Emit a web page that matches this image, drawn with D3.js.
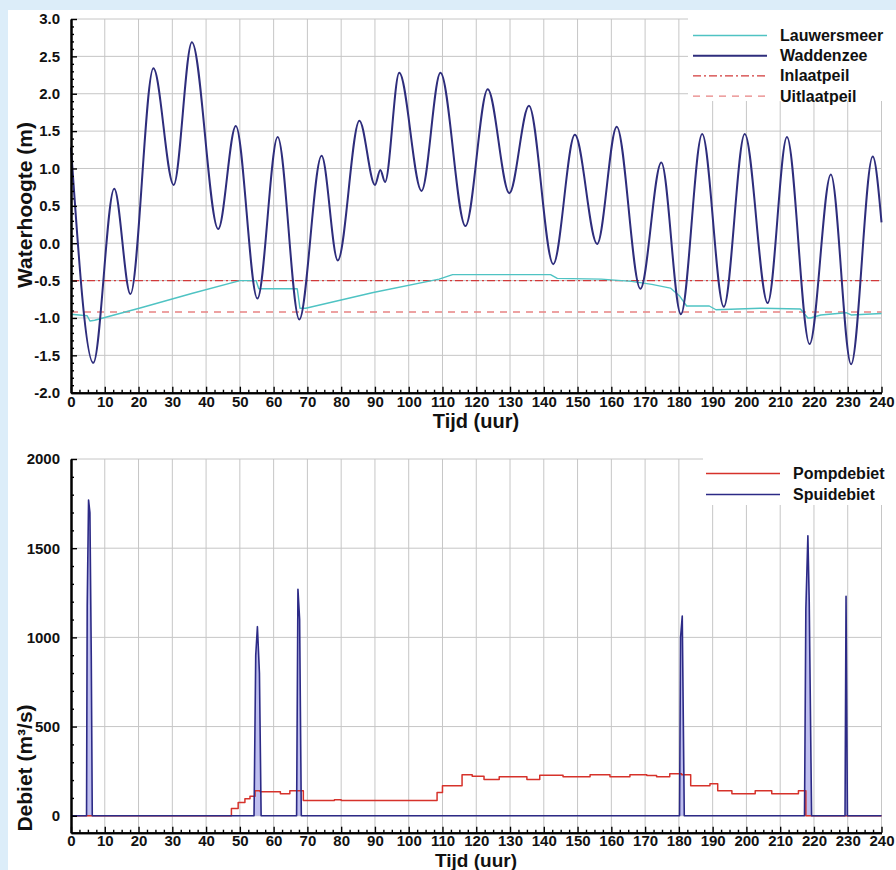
<!DOCTYPE html>
<html>
<head>
<meta charset="utf-8">
<script src="https://cdn.jsdelivr.net/npm/d3@7"></script>
<style>
  html, body { margin: 0; padding: 0; background: #dcedf9; }
  svg { display: block; }
  text { font-family: "Liberation Sans", Arial, sans-serif; font-weight: bold; fill: #111; }
</style>
</head>
<body>
<svg id="chart" width="896" height="870"></svg>
<script>
// Waddenzee tide: turning points (hour, m)
const tideHour = [0, 6.6, 12.8, 17.6, 24.4, 30.4, 35.8, 43.6, 48.8, 55.2, 61.2, 67.6, 74.2, 79.0,
  85.4, 90.0, 91.6, 93.0, 97.2, 103.8, 109.4, 116.8, 123.4, 129.8, 135.6, 142.8, 149.2, 155.8,
  161.6, 168.6, 174.8, 180.6, 186.9, 193.3, 199.5, 206.3, 212.0, 218.7, 225.0, 231.0, 237.4, 240];
const tideLevel = [1.28, -1.6, 0.73, -0.68, 2.34, 0.78, 2.69, 0.19, 1.57, -0.74, 1.42, -1.02, 1.17, -0.23,
  1.64, 0.78, 0.98, 0.82, 2.28, 0.7, 2.28, 0.23, 2.06, 0.67, 1.84, -0.28, 1.45, -0.01,
  1.56, -0.61, 1.08, -0.95, 1.46, -0.85, 1.46, -0.8, 1.42, -1.35, 0.92, -1.62, 1.16, 0.28];

// Lauwersmeer level (hour, m)
const lakeHour = [0, 4.8, 5.6, 7, 21, 36, 50, 54.8, 55.6, 67, 67.8, 69.5, 89.5, 109, 113, 142, 144,
  157, 166, 172, 177.5, 180.3, 182.3, 189, 191, 204, 216, 218.2, 219, 222, 229.5, 231, 240];
const lakeLevel = [-0.95, -0.97, -1.04, -1.03, -0.86, -0.67, -0.5, -0.5, -0.61, -0.61, -0.87, -0.87,
  -0.66, -0.48, -0.42, -0.42, -0.47, -0.48, -0.51, -0.55, -0.6, -0.71, -0.84, -0.84, -0.89, -0.87,
  -0.88, -1.0, -1.0, -0.96, -0.93, -0.96, -0.94];

const inlaatpeil = -0.5;
const uitlaatpeil = -0.92;

// pump discharge, stepwise (hour, m3/s)
const pompHour = [0, 47.5, 49.5, 51.5, 53, 54.5, 56, 62, 64.8, 68.8, 78, 80, 108.4, 110, 115.8,
  118.8, 122.3, 126.8, 135, 138.8, 145.7, 153.7, 159.6, 165.5, 170.5, 173.4, 177.3, 180.8, 183.5,
  189.2, 191.5, 195.7, 202.6, 207.5, 215.4, 217.6, 240];
const pompFlow = [0, 40, 75, 95, 110, 140, 135, 123, 140, 85, 90, 85, 130, 168, 230,
  222, 203, 219, 203, 227, 219, 230, 219, 230, 225, 219, 236, 230, 168,
  180, 140, 123, 140, 123, 140, 0, 0];

// sluice discharge (hour, m3/s)
const spuiHour = [0, 4.6, 4.8, 5.2, 5.6, 6.0, 6.3, 54.2, 54.7, 55.2, 55.8, 56.3, 66.8, 67.2, 67.7,
  68.2, 180.2, 180.5, 181, 181.6, 217.2, 217.6, 218.2, 218.6, 219.3, 229.2, 229.5, 229.9, 240];
const spuiFlow = [0, 0, 1180, 1770, 1700, 900, 0, 0, 900, 1060, 800, 0, 0, 1270, 1100,
  0, 0, 1000, 1120, 0, 0, 1160, 1570, 1200, 0, 0, 1230, 0, 0];

const hourTicks = d3.range(0, 241, 10);
const levelTicks = d3.range(-2, 3.01, 0.5);
const flowTicks = [0, 500, 1000, 1500, 2000];

const legendTop = ["Lauwersmeer", "Waddenzee", "Inlaatpeil", "Uitlaatpeil"];
const legendBottom = ["Pompdebiet", "Spuidebiet"];

const styles = {
  Lauwersmeer: { color: "#4fc3c3", width: 1.4, dash: null },
  Waddenzee: { color: "#2e2d7c", width: 2, dash: null },
  Inlaatpeil: { color: "#d23a3a", width: 1.3, dash: "8,3,2,3" },
  Uitlaatpeil: { color: "#e88282", width: 1.3, dash: "7,6" },
  Pompdebiet: { color: "#d6322b", width: 1.5, dash: null },
  Spuidebiet: { color: "#2c2a86", width: 1.6, dash: null },
};

const svg = d3.select("#chart");
svg.append("rect").attr("x", 8).attr("y", 10).attr("width", 888).attr("height", 860).attr("fill", "#fff");

const x = d3.scaleLinear().domain([0, 240]).range([71, 881.5]);
const yTop = d3.scaleLinear().domain([-2, 3]).range([392.7, 19]);
const yBot = d3.scaleLinear().domain([-95, 2000]).range([832.7, 459]);

function zip(a, b) {
  return a.map((v, i) => [v, b[i]]);
}

function drawGrid(g, y, yValues) {
  const [y0, y1] = y.range();
  g.selectAll(".vgrid")
    .data(hourTicks.filter((d) => d > 0))
    .join("line")
    .attr("x1", (d) => x(d)).attr("x2", (d) => x(d))
    .attr("y1", y0).attr("y2", y1)
    .attr("stroke", "#c6c6c6").attr("stroke-width", 1);
  g.selectAll(".hgrid")
    .data(yValues)
    .join("line")
    .attr("x1", x(0)).attr("x2", x(240))
    .attr("y1", (d) => y(d)).attr("y2", (d) => y(d))
    .attr("stroke", "#c6c6c6").attr("stroke-width", 1);
}

function drawAxes(g, y, majors, minorStep, fmt, yBottom, pad) {
  const minorX = d3.range(0, 240.01, 2.5).filter((d) => d % 10 !== 0);
  const ax = g.append("g").attr("transform", `translate(0,${yBottom})`);
  ax.call(d3.axisBottom(x).tickValues(minorX).tickSize(-3).tickSizeOuter(0).tickFormat(""));
  ax.append("g").call(d3.axisBottom(x).tickValues(hourTicks).tickSize(-6).tickSizeOuter(0).tickPadding(pad));

  const [d0, d1] = y.domain();
  const minorY = d3.range(Math.ceil(d0 / minorStep) * minorStep, d1 + minorStep / 2, minorStep)
    .filter((v) => !majors.some((m) => Math.abs(m - v) < minorStep / 10));
  const ay = g.append("g").attr("transform", `translate(${x(0)},0)`);
  ay.call(d3.axisLeft(y).tickValues(minorY).tickSize(-3).tickSizeOuter(0).tickFormat(""));
  ay.append("g").call(d3.axisLeft(y).tickValues(majors).tickSize(-6).tickSizeOuter(0).tickPadding(11).tickFormat(fmt));

  g.selectAll(".domain").attr("stroke", "#000").attr("stroke-width", 2);
  g.selectAll(".tick line").attr("stroke", "#000").attr("stroke-width", 1.4);
  g.selectAll(".tick text")
    .attr("font-family", '"Liberation Sans", Arial, sans-serif')
    .attr("font-weight", "bold").attr("font-size", 15).attr("fill", "#111");
}

function drawLegend(g, names, x0, x1, xt, yStart, step) {
  names.forEach((name, i) => {
    const s = styles[name];
    const yy = yStart + i * step;
    g.append("line")
      .attr("x1", x0).attr("x2", x1).attr("y1", yy).attr("y2", yy)
      .attr("stroke", s.color).attr("stroke-width", s.width)
      .attr("stroke-dasharray", s.dash);
    g.append("text").attr("x", xt).attr("y", yy + 5.5).attr("font-size", 16).text(name);
  });
}

function strokeLine(g, data, y, name, curve) {
  const s = styles[name];
  g.append("path")
    .datum(data)
    .attr("d", d3.line().x((d) => x(d[0])).y((d) => y(d[1])).curve(curve))
    .attr("fill", "none")
    .attr("stroke", s.color).attr("stroke-width", s.width)
    .attr("stroke-dasharray", s.dash)
    .attr("stroke-linejoin", "round");
}

// ---------- top: water levels ----------
const levelPanel = svg.append("g");
drawGrid(levelPanel, yTop, levelTicks.filter((d) => d > -2));
levelPanel.append("rect").attr("x", 688).attr("y", 10).attr("width", 208).attr("height", 91).attr("fill", "#fff");

strokeLine(levelPanel, [[0, uitlaatpeil], [240, uitlaatpeil]], yTop, "Uitlaatpeil", d3.curveLinear);
strokeLine(levelPanel, [[0, inlaatpeil], [240, inlaatpeil]], yTop, "Inlaatpeil", d3.curveLinear);
strokeLine(levelPanel, zip(lakeHour, lakeLevel), yTop, "Lauwersmeer", d3.curveLinear);
strokeLine(levelPanel, zip(tideHour, tideLevel), yTop, "Waddenzee", d3.curveMonotoneX);

drawAxes(levelPanel, yTop, levelTicks, 0.1, (d) => d.toFixed(1), 392.7, 4);
drawLegend(levelPanel, legendTop, 693, 767, 780, 35.5, 20.2);

levelPanel.append("text").attr("x", 476).attr("y", 428).attr("text-anchor", "middle")
  .attr("font-size", 20).text("Tijd (uur)");
levelPanel.append("text").attr("transform", "translate(32,205) rotate(-90)").attr("text-anchor", "middle")
  .attr("font-size", 21).text("Waterhoogte (m)");

// ---------- bottom: discharges ----------
const flowPanel = svg.append("g");
drawGrid(flowPanel, yBot, flowTicks);
flowPanel.append("rect").attr("x", 703).attr("y", 450).attr("width", 193).attr("height", 55).attr("fill", "#fff");

const spuiData = zip(spuiHour, spuiFlow);
flowPanel.append("path")
  .datum(spuiData)
  .attr("d", d3.area().x((d) => x(d[0])).y0(yBot(0)).y1((d) => yBot(d[1])))
  .attr("fill", "#b4b4ec").attr("opacity", 0.85);
strokeLine(flowPanel, zip(pompHour, pompFlow), yBot, "Pompdebiet", d3.curveStepAfter);
strokeLine(flowPanel, spuiData, yBot, "Spuidebiet", d3.curveLinear);

drawAxes(flowPanel, yBot, flowTicks, 100, (d) => String(d), 832.7, 2.5);
drawLegend(flowPanel, legendBottom, 706, 780, 793, 473.5, 21);

flowPanel.append("text").attr("x", 476).attr("y", 867).attr("text-anchor", "middle")
  .attr("font-size", 19).text("Tijd (uur)");
flowPanel.append("text").attr("transform", "translate(32,768) rotate(-90)").attr("text-anchor", "middle")
  .attr("font-size", 21).text("Debiet (m³/s)");
</script>
</body>
</html>
